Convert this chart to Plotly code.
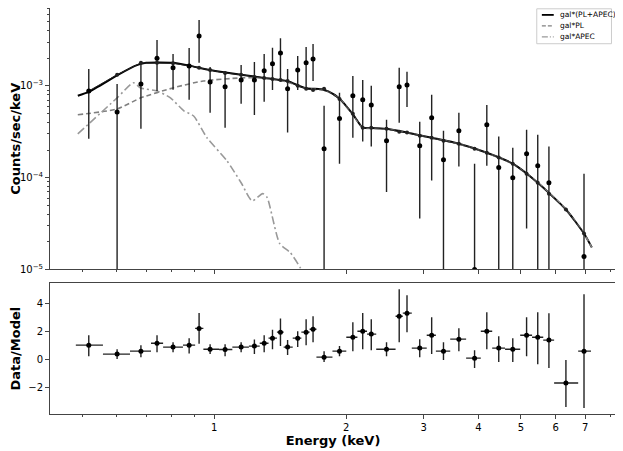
import plotly.graph_objects as go
from plotly.subplots import make_subplots

# --- spectral bins (keV) ---
e_mid = [0.518, 0.601, 0.681, 0.741, 0.806, 0.877, 0.924, 0.979, 1.059, 1.152,
         1.235, 1.30, 1.358, 1.416, 1.47, 1.55, 1.62, 1.68, 1.78, 1.93,
         2.07, 2.18, 2.28, 2.47, 2.64, 2.75, 2.94, 3.13, 3.33, 3.61,
         3.92, 4.18, 4.45, 4.79, 5.15, 5.46, 5.79, 6.33, 6.96]
e_lo = [0.484, 0.558, 0.643, 0.718, 0.765, 0.849, 0.905, 0.945, 1.026, 1.10,
        1.20, 1.27, 1.33, 1.39, 1.44, 1.51, 1.58, 1.65, 1.71, 1.86,
        2.00, 2.12, 2.23, 2.34, 2.59, 2.69, 2.82, 3.05, 3.20, 3.45,
        3.75, 4.05, 4.30, 4.60, 4.98, 5.30, 5.62, 5.95, 6.75]
e_hi = [0.558, 0.643, 0.718, 0.765, 0.849, 0.905, 0.945, 1.026, 1.10, 1.20,
        1.27, 1.33, 1.39, 1.44, 1.51, 1.58, 1.65, 1.71, 1.86, 2.00,
        2.12, 2.23, 2.34, 2.59, 2.69, 2.82, 3.05, 3.20, 3.45, 3.75,
        4.05, 4.30, 4.60, 4.98, 5.30, 5.62, 5.95, 6.75, 7.22]

# --- count rate (counts/sec/keV), None = negative, off the log axis ---
rate = [8.8e-4, 5.2e-4, 1.05e-3, 2.0e-3, 1.57e-3, 1.65e-3, 3.49e-3, 1.1e-3, 9.8e-4, 1.16e-3,
        1.16e-3, 1.46e-3, 1.74e-3, 2.28e-3, 9.3e-4, 1.49e-3, 1.78e-3, 1.96e-3, 2.07e-4, 4.4e-4,
        7.8e-4, 7.05e-4, 6.2e-4, 2.52e-4, 9.8e-4, 1.02e-3, 2.23e-4, 4.49e-4, 1.57e-4, 3.24e-4,
        1.0e-5, 3.77e-4, 1.29e-4, 1.0e-4, 1.82e-4, 1.35e-4, 8.8e-5, None, 1.38e-5]
rate_hi = [1.53e-3, 1.05e-3, 1.87e-3, 3.16e-3, 2.22e-3, 2.59e-3, 5.2e-3, 1.6e-3, 1.42e-3, 1.69e-3,
           1.82e-3, 2.22e-3, 2.6e-3, 3.3e-3, 1.53e-3, 2.12e-3, 2.65e-3, 2.86e-3, 6.06e-4, 8.4e-4,
           1.28e-3, 1.16e-3, 1.0e-3, 4.27e-4, 1.57e-3, 1.42e-3, 4.06e-4, 7.98e-4, 3.24e-4, 5.1e-4,
           1.42e-4, 6.2e-4, 2.8e-4, 2.12e-4, 3.32e-4, 2.94e-4, 2.18e-4, None, 1.1e-4]
# 1e-6 marks a lower bound that runs below the axis
rate_lo = [2.65e-4, 1e-6, 3.4e-4, 8.8e-4, 9.05e-4, 7.05e-4, 1.78e-3, 5.1e-4, 3.5e-4, 6.4e-4,
           4.8e-4, 6.7e-4, 9.0e-4, 1.16e-3, 3.1e-4, 9.0e-4, 9.3e-4, 1.13e-3, 1e-6, 1.42e-4,
           2.72e-4, 2.47e-4, 2.18e-4, 7.0e-5, 3.96e-4, 5.9e-4, 3.58e-5, 9.3e-5, 1e-6, 1.32e-4,
           1e-6, 1.35e-4, 1e-6, 1e-6, 2.8e-5, 1e-6, 1e-6, None, 1e-6]

# --- folded model at the bin centres ---
model_bin = [8.8e-4, 1.32e-3, 1.78e-3, 1.78e-3, 1.76e-3, 1.65e-3, 1.57e-3, 1.49e-3, 1.38e-3, 1.32e-3,
             1.25e-3, 1.22e-3, 1.19e-3, 1.16e-3, 1.13e-3, 1.0e-3, 9.3e-4, 9.0e-4, 9.3e-4, 7.2e-4,
             4.96e-4, 3.49e-4, 3.49e-4, 3.4e-4, 3.16e-4, 3.1e-4, 2.86e-4, 2.72e-4, 2.52e-4, 2.34e-4,
             2.07e-4, 1.87e-4, 1.66e-4, 1.42e-4, 1.10e-4, 8.8e-5, 6.7e-5, 4.5e-5, 2.46e-5]

# --- model curves ---
tot_e = [0.489, 0.518, 0.601, 0.66, 0.70, 0.806, 0.877, 0.979, 1.152, 1.30, 1.47, 1.62,
         1.75, 1.82, 1.93, 2.07, 2.18, 2.28, 2.47, 2.75, 3.13, 3.61, 4.18, 4.79, 5.46, 6.33, 6.96, 7.25]
tot_y = [7.8e-4, 8.6e-4, 1.3e-3, 1.65e-3, 1.78e-3, 1.78e-3, 1.66e-3, 1.49e-3, 1.32e-3, 1.22e-3, 1.12e-3, 9.4e-4,
         9.2e-4, 8.7e-4, 7.3e-4, 4.9e-4, 3.5e-4, 3.48e-4, 3.4e-4, 3.1e-4, 2.72e-4, 2.34e-4, 1.87e-4, 1.42e-4,
         8.8e-5, 4.5e-5, 2.46e-5, 1.74e-5]
pl_e = [0.489, 0.601, 0.681, 0.806, 0.944, 1.152, 1.30, 1.47, 1.62, 1.75, 1.82, 1.93,
        2.07, 2.18, 2.28, 2.47, 2.75, 3.13, 3.61, 4.18, 4.79, 5.46, 6.33, 6.96, 7.25]
pl_y = [4.84e-4, 5.6e-4, 7.4e-4, 9.5e-4, 1.13e-3, 1.22e-3, 1.22e-3, 1.1e-3, 9.3e-4, 9.1e-4, 8.6e-4, 7.2e-4,
        4.9e-4, 3.48e-4, 3.45e-4, 3.38e-4, 3.08e-4, 2.7e-4, 2.33e-4, 1.86e-4, 1.41e-4, 8.8e-5, 4.5e-5,
        2.45e-5, 1.74e-5]
apec_e = [0.489, 0.601, 0.655, 0.68, 0.741, 0.795, 0.853, 0.898, 0.963, 1.069, 1.152, 1.22,
          1.29, 1.32, 1.41, 1.49, 1.57, 1.63]
apec_y = [3.0e-4, 7.4e-4, 1.08e-3, 9.5e-4, 8.8e-4, 7.4e-4, 5.35e-4, 4.7e-4, 2.72e-4, 1.53e-4, 8.8e-5, 5.6e-5,
          6.7e-5, 6.1e-5, 1.92e-5, 1.53e-5, 1.05e-5, 7.0e-6]

# --- data / model ratio ---
ratio = [1.0, 0.36, 0.57, 1.14, 0.86, 1.0, 2.2, 0.71, 0.69, 0.86,
         0.93, 1.14, 1.5, 1.93, 0.86, 1.5, 1.93, 2.14, 0.14, 0.57,
         1.57, 2.0, 1.79, 0.71, 3.07, 3.29, 0.79, 1.71, 0.57, 1.43,
         0.07, 2.0, 0.79, 0.71, 1.71, 1.57, 1.36, -1.71, 0.57]
ratio_hi = [1.7, 0.7, 1.0, 1.7, 1.2, 1.5, 3.3, 1.07, 1.07, 1.2,
            1.4, 1.7, 2.1, 2.9, 1.36, 2.0, 2.86, 3.07, 0.57, 0.93,
            2.64, 3.3, 2.86, 1.21, 5.0, 4.57, 1.43, 3.0, 1.21, 2.21,
            0.64, 3.36, 1.64, 1.5, 3.0, 3.36, 3.29, -0.07, 4.64]
ratio_lo = [0.2, 0.0, 0.14, 0.5, 0.5, 0.4, 1.1, 0.36, 0.2, 0.5,
            0.36, 0.5, 0.7, 0.93, 0.29, 0.86, 1.0, 1.21, -0.2, 0.21,
            0.57, 0.71, 0.64, 0.21, 1.21, 1.93, 0.14, 0.36, -0.07, 0.57,
            -0.64, 0.71, -0.21, -0.21, 0.21, -0.36, -0.64, -3.43, -3.5]

x_ticks = [1, 2, 3, 4, 5, 6, 7]
x_minor = [0.5, 0.6, 0.7, 0.8, 0.9, 8]
y_ticks = [1e-5, 1e-4, 1e-3]
y_ticktext = ["10<sup>−5</sup>", "10<sup>−4</sup>", "10<sup>−3</sup>"]
y_minor = [m * 10 ** p for p in (-5, -4, -3) for m in range(2, 10)]

legend_names = ["gal*(PL+APEC)", "gal*PL", "gal*APEC"]
legend_colors = ["black", "#808080", "#999999"]
legend_dash = ["solid", "4px,2px", "6px,2px,1px,2px"]

FONT = "DejaVu Sans"

fig = make_subplots(rows=2, cols=1, shared_xaxes=True, vertical_spacing=0.034,
                    row_heights=[0.644, 0.322])

# model curves
fig.add_trace(go.Scatter(x=tot_e, y=tot_y, mode="lines", name=legend_names[0],
                         line=dict(color="black", width=2, shape="spline", smoothing=0.6)), row=1, col=1)
fig.add_trace(go.Scatter(x=pl_e, y=pl_y, mode="lines", name=legend_names[1],
                         line=dict(color="#808080", width=1.6, dash="5px,3px", shape="spline", smoothing=0.6)),
              row=1, col=1)
fig.add_trace(go.Scatter(x=apec_e, y=apec_y, mode="lines", name=legend_names[2],
                         line=dict(color="#999999", width=1.6, dash="8px,3px,2px,3px", shape="spline", smoothing=0.6)),
              row=1, col=1)
fig.add_trace(go.Scatter(x=e_mid, y=model_bin, mode="lines+markers", showlegend=False,
                         line=dict(color="#222222", width=1),
                         marker=dict(color="#222222", size=4)), row=1, col=1)

# data points with errors
up = [None if r is None else h - r for r, h in zip(rate, rate_hi)]
dn = [None if r is None else r - l for r, l in zip(rate, rate_lo)]
fig.add_trace(go.Scatter(x=e_mid, y=rate, mode="markers", showlegend=False,
                         marker=dict(color="black", size=5),
                         error_y=dict(type="data", symmetric=False, array=up, arrayminus=dn,
                                      color="#222222", thickness=1.4, width=0)), row=1, col=1)

# ratio panel
fig.add_hline(y=1, line=dict(color="#333333", width=1), row=2, col=1)
fig.add_trace(go.Scatter(x=e_mid, y=ratio, mode="markers", showlegend=False,
                         marker=dict(color="black", size=5),
                         error_y=dict(type="data", symmetric=False,
                                      array=[h - r for r, h in zip(ratio, ratio_hi)],
                                      arrayminus=[r - l for r, l in zip(ratio, ratio_lo)],
                                      color="#222222", thickness=1.4, width=0),
                         error_x=dict(type="data", symmetric=False,
                                      array=[h - m for m, h in zip(e_mid, e_hi)],
                                      arrayminus=[m - l for m, l in zip(e_mid, e_lo)],
                                      color="#222222", thickness=1.4, width=0)), row=2, col=1)

axis_common = dict(showline=True, mirror=True, linecolor="#444444", linewidth=1, automargin=False,
                   ticks="outside", ticklen=4, tickcolor="#444444", showgrid=False, zeroline=False,
                   tickfont=dict(family=FONT, size=10, color="black"))

fig.update_xaxes(type="log", range=[-0.374, 0.9155], tickvals=x_ticks, ticktext=[str(v) for v in x_ticks],
                 minor=dict(tickvals=x_minor, ticks="outside", ticklen=2, tickcolor="#444444"),
                 **axis_common)
fig.update_xaxes(showticklabels=False, row=1, col=1)
fig.update_xaxes(title=dict(text="<b>Energy (keV)</b>", font=dict(family=FONT, size=13, color="black"),
                            standoff=2), row=2, col=1)

fig.update_yaxes(type="log", range=[-5, -2.152], tickvals=y_ticks, ticktext=y_ticktext,
                 minor=dict(tickvals=y_minor, ticks="outside", ticklen=2, tickcolor="#444444"),
                 title=dict(text="<b>Counts/sec/keV</b>", font=dict(family=FONT, size=13, color="black"),
                            standoff=4),
                 row=1, col=1, **axis_common)
fig.update_yaxes(range=[-3.93, 5.43], tickvals=[-2, 0, 2, 4], ticktext=["−2", "0", "2", "4"],
                 title=dict(text="<b>Data/Model</b>", font=dict(family=FONT, size=13, color="black"),
                            standoff=6),
                 row=2, col=1, **axis_common)

# compact legend box in the top-right corner of the upper panel
fig.add_shape(type="rect", xref="paper", yref="paper", x0=0.860, x1=0.992, y0=0.912, y1=0.998,
              line=dict(color="#cccccc", width=1), fillcolor="white", layer="above")
for i, (name, col, dash) in enumerate(zip(legend_names, legend_colors, legend_dash)):
    yy = 0.983 - i * 0.027
    fig.add_shape(type="line", xref="paper", yref="paper", x0=0.869, x1=0.890, y0=yy, y1=yy,
                  line=dict(color=col, width=1.8 if i == 0 else 1.4, dash=dash), layer="above")
    fig.add_annotation(x=0.897, y=yy, xref="paper", yref="paper", text=name, showarrow=False,
                       xanchor="left", yanchor="middle", font=dict(family=FONT, size=7.5, color="black"))

# page body adds an 8px margin, so the figure is sized to fit the window inside it
fig.update_layout(
    width=615, height=443,
    margin=dict(l=42, r=7, t=0, b=37),
    paper_bgcolor="white", plot_bgcolor="white",
    font=dict(family=FONT, size=10, color="black"),
    showlegend=False,
)

fig.write_html("out.html")
